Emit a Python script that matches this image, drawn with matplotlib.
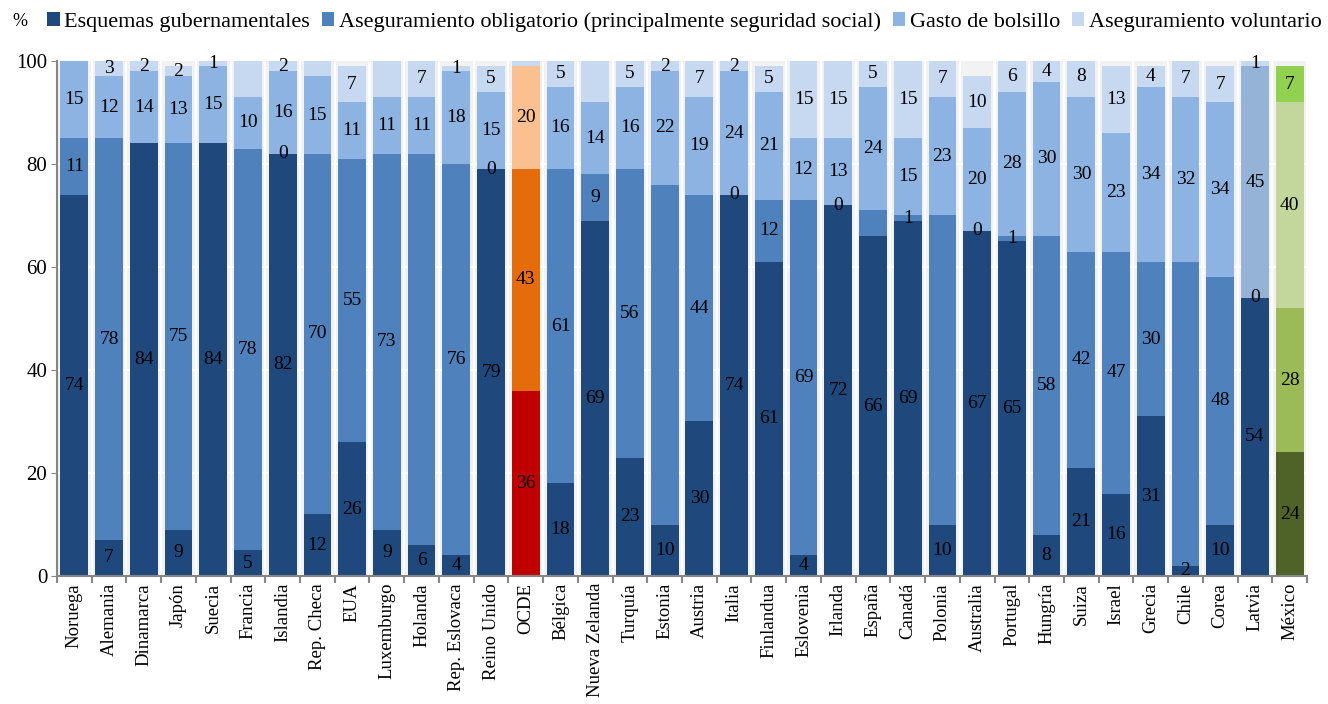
import matplotlib
matplotlib.use("Agg")
import matplotlib.pyplot as plt
from matplotlib.patches import Patch
import numpy as np

plt.rcParams['font.family'] = ['Liberation Serif', 'DejaVu Serif']

countries = ["Noruega", "Alemania", "Dinamarca", "Japón", "Suecia", "Francia", "Islandia",
             "Rep. Checa", "EUA", "Luxemburgo", "Holanda", "Rep. Eslovaca", "Reino Unido",
             "OCDE", "Bélgica", "Nueva Zelanda", "Turquía", "Estonia", "Austria", "Italia",
             "Finlandua", "Eslovenia", "Irlanda", "España", "Canadá", "Polonia", "Australia",
             "Portugal", "Hungría", "Suiza", "Israel", "Grecia", "Chile", "Corea", "Latvia",
             "México"]

gubernamentales = [74, 7, 84, 9, 84, 5, 82, 12, 26, 9, 6, 4, 79, 36, 18, 69, 23, 10, 30, 74,
                   61, 4, 72, 66, 69, 10, 67, 65, 8, 21, 16, 31, 2, 10, 54, 24]
obligatorio = [11, 78, 0, 75, 0, 78, 0, 70, 55, 73, 76, 76, 0, 43, 61, 9, 56, 66, 44, 0,
               12, 69, 0, 5, 1, 60, 0, 1, 58, 42, 47, 30, 59, 48, 0, 28]
bolsillo = [15, 12, 14, 13, 15, 10, 16, 15, 11, 11, 11, 18, 15, 20, 16, 14, 16, 22, 19, 24,
            21, 12, 13, 24, 15, 23, 20, 28, 30, 30, 23, 34, 32, 34, 45, 40]
voluntario = [0, 3, 2, 2, 1, 7, 2, 3, 7, 7, 7, 1, 5, 1, 5, 8, 5, 2, 7, 2,
              5, 15, 15, 5, 15, 7, 10, 6, 4, 8, 13, 4, 7, 7, 1, 7]

series_names = ["Esquemas gubernamentales",
                "Aseguramiento obligatorio (principalmente seguridad social)",
                "Gasto de bolsillo",
                "Aseguramiento voluntario"]

# segments whose value label is not shown in the original (country, series index)
hidden_labels = {("Noruega", 3), ("Dinamarca", 1), ("Suecia", 1), ("Francia", 3),
                 ("Rep. Checa", 3), ("Luxemburgo", 3), ("Holanda", 1), ("OCDE", 3),
                 ("Nueva Zelanda", 3), ("Estonia", 1), ("España", 1), ("Polonia", 1),
                 ("Chile", 1)}

base_colors = ["#1F497D", "#4F81BD", "#8DB3E2", "#C6D9F1"]
special_colors = {
    "OCDE": ["#C00000", "#E46C0A", "#FAC090", "#C6D9F1"],
    "Latvia": ["#1F497D", "#4F81BD", "#95B3D7", "#C6D9F1"],
    "México": ["#4F6228", "#9BBB59", "#C3D69B", "#92D050"],
}

data = [gubernamentales, obligatorio, bolsillo, voluntario]
n = len(countries)
x = np.arange(n)

fig = plt.figure(figsize=(13.28, 7.04), dpi=100)
ax = fig.add_axes([0.0429, 0.1818, 0.9413, 0.7316])

# light gray background columns
ax.bar(x, [100] * n, width=0.94, color="#F2F2F2", zorder=0, linewidth=0)
for yv in [20, 40, 60, 80]:
    ax.axhline(yv, color="white", lw=1.5, zorder=1)

bottom = np.zeros(n)
for s in range(4):
    vals = np.array(data[s], dtype=float)
    cols = [special_colors.get(c, base_colors)[s] for c in countries]
    ax.bar(x, vals, bottom=bottom, width=0.8, color=cols, zorder=2, linewidth=0)
    for i, c in enumerate(countries):
        if (c, s) in hidden_labels:
            continue
        ax.text(x[i], bottom[i] + vals[i] / 2, f"{int(vals[i])}", ha="center", va="center",
                fontsize=14, color="black", zorder=3)
    bottom += vals

ax.set_xlim(-0.5, n - 0.5)
ax.set_ylim(0, 100)
ax.set_yticks([0, 20, 40, 60, 80, 100])
ax.tick_params(axis="y", labelsize=15, length=4, color="#868686", pad=3)
ax.set_xticks(x)
ax.set_xticklabels(countries, rotation=90, fontsize=13.5)
ax.tick_params(axis="x", length=0, pad=5)
ax.set_xticks(np.arange(-0.5, n, 1), minor=True)
ax.tick_params(axis="x", which="minor", length=5, color="#868686", width=1.5)
for sp in ["top", "right"]:
    ax.spines[sp].set_visible(False)
for sp in ["left", "bottom"]:
    ax.spines[sp].set_color("#868686")
    ax.spines[sp].set_linewidth(1.5)
ax.set_facecolor("white")

handles = [Patch(facecolor=base_colors[i], edgecolor="none") for i in range(4)]
fig.legend(handles, series_names, loc="center left", bbox_to_anchor=(0.029, 0.969),
           ncol=4, frameon=False, fontsize=16, handlelength=0.55, handleheight=0.55,
           handletextpad=0.2, columnspacing=0.55, borderaxespad=0)
fig.text(0.009, 0.969, "%", fontsize=13, va="center", ha="left")

fig.savefig("out.png", dpi=100)
